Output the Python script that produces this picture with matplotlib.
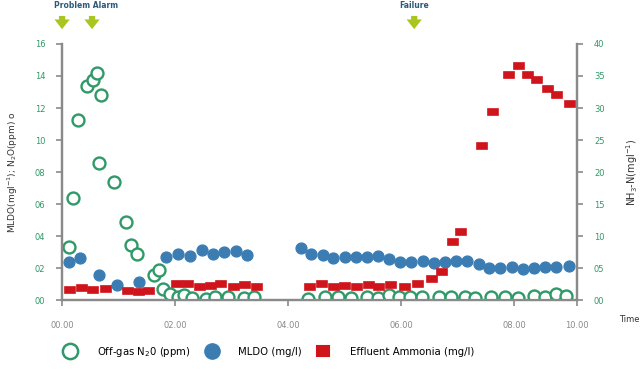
import matplotlib.pyplot as plt
from matplotlib.markers import MarkerStyle
from matplotlib.transforms import Affine2D

# hours / values
n2o_t = [0.13, 0.20, 0.29, 0.44, 0.54, 0.61, 0.68, 0.66, 0.92, 1.13, 1.22, 1.33,
         1.62, 1.72, 1.79, 1.91, 2.05, 2.16, 2.30, 2.54, 2.71, 2.94, 3.21, 3.40,
         4.35, 4.65, 4.89, 5.11, 5.39, 5.59, 5.78, 5.96, 6.16, 6.37, 6.66, 6.88,
         7.12, 7.30, 7.59, 7.84, 8.07, 8.35, 8.55, 8.73, 8.92]
n2o_v = [3.3, 6.4, 11.25, 13.4, 13.75, 14.2, 12.8, 8.55, 7.4, 4.85, 3.45, 2.9,
         1.55, 1.9, 0.7, 0.35, 0.2, 0.3, 0.1, 0.06, 0.17, 0.17, 0.1, 0.17,
         0.06, 0.17, 0.17, 0.1, 0.2, 0.1, 0.31, 0.2, 0.17, 0.2, 0.17, 0.2,
         0.17, 0.1, 0.2, 0.2, 0.1, 0.25, 0.17, 0.38, 0.27]

mldo_t = [0.13, 0.32, 0.66, 0.98, 1.36, 1.84, 2.05, 2.27, 2.48, 2.67, 2.87, 3.07,
          3.27, 4.23, 4.41, 4.61, 4.80, 5.01, 5.20, 5.39, 5.59, 5.78, 5.98, 6.18,
          6.38, 6.58, 6.78, 6.97, 7.17, 7.37, 7.56, 7.74, 7.96, 8.16, 8.35, 8.55,
          8.74, 8.96]
mldo_v = [2.4, 2.6, 1.55, 0.95, 1.15, 2.7, 2.85, 2.75, 3.1, 2.9, 3.0, 3.05,
          2.8, 3.27, 2.87, 2.79, 2.65, 2.71, 2.67, 2.67, 2.75, 2.56, 2.37, 2.37,
          2.44, 2.29, 2.4, 2.44, 2.44, 2.25, 2.0, 2.0, 2.04, 1.92, 2.02, 2.04,
          2.04, 2.12]

nh3_t = [0.14, 0.36, 0.55, 0.77, 1.16, 1.36, 1.53, 2.04, 2.22, 2.44, 2.63, 2.81,
         3.04, 3.24, 3.45, 4.39, 4.59, 4.81, 5.01, 5.22, 5.43, 5.60, 5.82, 6.07,
         6.30, 6.54, 6.73, 6.92, 7.06, 7.43, 7.63, 7.90, 8.09, 8.25, 8.40, 8.60,
         8.76, 8.99]
nh3_v = [1.56, 1.82, 1.56, 1.67, 1.46, 1.3, 1.46, 2.45, 2.55, 2.1, 2.2, 2.5,
         2.0, 2.35, 2.1, 2.08, 2.5, 1.98, 2.19, 2.08, 2.34, 2.08, 2.34, 1.98,
         2.5, 3.28, 4.33, 9.0, 10.6, 24.0, 29.3, 35.2, 36.5, 35.2, 34.3, 33.0,
         32.0, 30.7]

xticks = [0, 2, 4, 6, 8, 9.115]
xlabels = ["00.00", "02.00", "04.00", "06.00", "08.00", "10.00"]
event_t = [0.0, 0.53, 6.23]

green = "#2f9a68"
blue = "#3b7db3"
red = "#d0141c"
grey = "#8a8a8a"
arrow_c = "#a9c620"

fig = plt.figure(figsize=(6.4, 3.76), dpi=100)
ax = fig.add_axes([0.097, 0.202, 0.805, 0.681])
ax2 = ax.twinx()

ax.plot(n2o_t, n2o_v, 'o', ms=8.6, mfc='white', mec=green, mew=1.7, zorder=3)
ax.plot(mldo_t, mldo_v, 'o', ms=7.8, color=blue, mec=blue, zorder=2)
rect = MarkerStyle('s', transform=Affine2D().scale(1.6, 1.0))
ax2.plot(nh3_t, nh3_v, ls='none', marker=rect, ms=4.6, color=red, mec=red,
         mew=1.2, zorder=2)

ax.set_xlim(0, 9.115)
ax.set_ylim(0, 16)
ax2.set_ylim(0, 40)
ax.set_xticks(xticks)
ax.set_xticklabels(xlabels)
ax.set_yticks(range(0, 17, 2))
ax.set_yticklabels(["%02d" % v for v in range(0, 17, 2)])
ax2.set_yticks(range(0, 41, 5))
ax2.set_yticklabels(["%02d" % v for v in range(0, 41, 5)])

for a in (ax, ax2):
    a.spines['top'].set_visible(False)
    for s in ('left', 'right', 'bottom'):
        a.spines[s].set_color(grey)
        a.spines[s].set_linewidth(1.6)
    a.tick_params(axis='y', colors=grey, labelcolor=green, labelsize=6,
                  length=4, width=1.2, pad=8)
ax.tick_params(axis='x', colors=grey, labelcolor=grey, labelsize=6,
               length=4, width=1.2, pad=11)

ax.set_ylabel("MLDO(mgl$^{-1}$); N$_2$O(ppm) o", fontsize=6.5, color="#333333",
              labelpad=11)
ax2.set_ylabel("NH$_3$-N(mgl$^{-1}$)", fontsize=7, color="#333333", labelpad=14)
fig.text(0.984, 0.143, "Time", fontsize=6, color="#333333", ha='center')

# event arrows and labels
for t in event_t:
    ax.annotate("", xy=(t, 0.915), xytext=(t, 0.965),
                xycoords=('data', 'figure fraction'),
                textcoords=('data', 'figure fraction'),
                arrowprops=dict(arrowstyle='simple,head_width=1.1,head_length=0.7,tail_width=0.45',
                                color=arrow_c, lw=0))
fig.text(0.135, 0.985, "Problem Alarm", fontsize=5.5, color="#2c5a7a",
         fontweight='bold', ha='center', va='center')
fig.text(0.647, 0.985, "Failure", fontsize=5.5, color="#2c5a7a",
         fontweight='bold', ha='center', va='center')

# legend
h1, = ax.plot([], [], 'o', ms=11, mfc='white', mec=green, mew=1.8)
h2, = ax.plot([], [], 'o', ms=11, color=blue)
h3, = ax.plot([], [], ls='none', marker=MarkerStyle('s', transform=Affine2D().scale(1.3, 1.0)),
              ms=7, color=red, mec=red, mew=1.5)
fig.legend([h1, h2, h3], ["Off-gas N$_2$0 (ppm)", "MLDO (mg/l)", "Effluent Ammonia (mg/l)"],
           loc='center left', bbox_to_anchor=(0.08, 0.064), ncol=3, frameon=False,
           fontsize=7.3, handletextpad=1.6, columnspacing=1.1)

fig.savefig("out.png", dpi=100)
